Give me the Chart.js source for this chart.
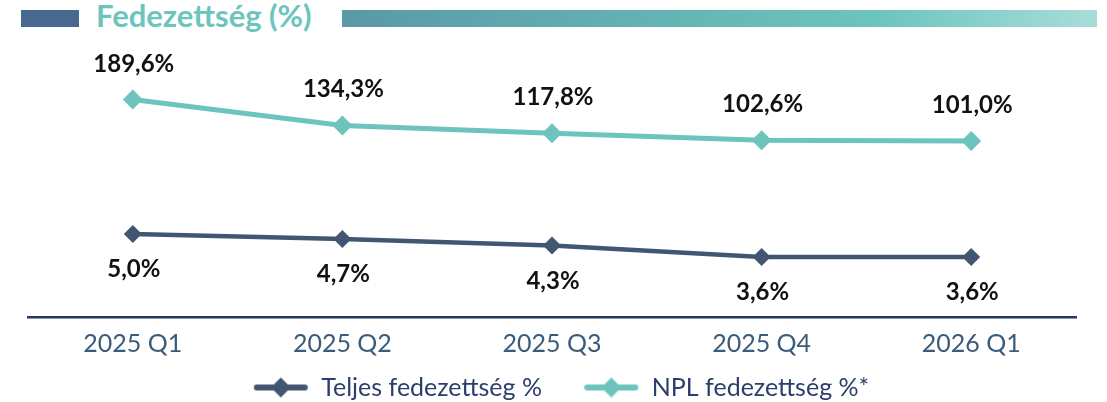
<!DOCTYPE html>
<html>
<head>
<meta charset="utf-8">
<script src="https://cdn.jsdelivr.net/npm/chart.js@4"></script>
<style>
  html, body { margin: 0; padding: 0; background: #fff; }
  #wrap { position: relative; width: 1107px; height: 402px; }
  #head-left { position: absolute; left: 21px; top: 10px; width: 58px; height: 17px; background: #48698f; }
  #head-title { position: absolute; left: 96px; top: -4px; font: bold 31px Lato, sans-serif; color: #6cc5bd; white-space: nowrap; }
  #head-right { position: absolute; left: 342px; top: 10px; width: 755px; height: 17px;
    background: linear-gradient(90deg, #5a99a7 0%, #6cc5bd 71%, #a9dcd9 100%); }
  canvas { position: absolute; left: 0; top: 0; }
</style>
</head>
<body>
<div id="wrap">
  <div id="head-left"></div>
  <div id="head-title">Fedezettség (%)</div>
  <div id="head-right"></div>
  <canvas id="chart" width="1107" height="402"></canvas>
</div>
<script>
const quarters = ['2025 Q1', '2025 Q2', '2025 Q3', '2025 Q4', '2026 Q1'];
const teljes = [5.0, 4.7, 4.3, 3.6, 3.6];
const npl = [189.6, 134.3, 117.8, 102.6, 101.0];

const DARK = '#405672';
const TEAL = '#6cc4bd';

// legend swatch: short thick line with a diamond in the middle
function legendIcon(color) {
    const c = document.createElement('canvas');
    c.width = 56;
    c.height = 22;
    const g = c.getContext('2d');
    g.strokeStyle = color;
    g.lineWidth = 6;
    g.lineCap = 'round';
    g.beginPath();
    g.moveTo(4, 11);
    g.lineTo(52, 11);
    g.stroke();
    g.fillStyle = color;
    g.beginPath();
    g.moveTo(28, 1);
    g.lineTo(38, 11);
    g.lineTo(28, 21);
    g.lineTo(18, 11);
    g.closePath();
    g.fill();
    return c;
}

// value labels: NPL above the points, Teljes below
const valueLabels = {
    id: 'valueLabels',
    afterDatasetsDraw(chart) {
        const ctx = chart.ctx;
        ctx.save();
        ctx.font = 'bold 24px Lato';
        ctx.fillStyle = '#111111';
        ctx.textAlign = 'center';
        ctx.textBaseline = 'alphabetic';
        chart.data.datasets.forEach((ds, i) => {
            const meta = chart.getDatasetMeta(i);
            meta.data.forEach((pt, j) => {
                const txt = ds.data[j].toFixed(1).replace('.', ',') + '%';
                const dy = ds.labelPos === 'above' ? -28 : 43;
                ctx.fillText(txt, pt.x + 1, pt.y + dy);
            });
        });
        ctx.restore();
    }
};

// nudge the legend box a little right and down
const legendNudge = {
    id: 'legendNudge',
    afterLayout(chart) {
        const lg = chart.legend;
        if (!lg) return;
        lg.left += 9;
        lg.right += 9;
        lg.top += 2;
        lg.bottom += 2;
    }
};

Chart.defaults.font.family = 'Lato';

const chart = new Chart(document.getElementById('chart').getContext('2d'), {
    type: 'line',
    data: {
        labels: quarters,
        datasets: [{
            label: 'Teljes fedezettség %',
            data: teljes,
            yAxisID: 'yT',
            borderColor: DARK,
            backgroundColor: DARK,
            borderWidth: 4.5,
            pointStyle: 'rectRot',
            pointRadius: 9,
            pointBorderWidth: 0,
            pointBackgroundColor: DARK,
            labelPos: 'below',
            tension: 0
        }, {
            label: 'NPL fedezettség %*',
            data: npl,
            yAxisID: 'yN',
            borderColor: TEAL,
            backgroundColor: TEAL,
            borderWidth: 5,
            pointStyle: 'rectRot',
            pointRadius: 10,
            pointBorderWidth: 0,
            pointBackgroundColor: TEAL,
            labelPos: 'above',
            tension: 0
        }]
    },
    options: {
        responsive: false,
        animation: false,
        layout: {
            padding: { left: 28, right: 31, top: 50, bottom: -6 }
        },
        scales: {
            x: {
                offset: true,
                grid: { display: false },
                border: { display: true, color: '#1f3864', width: 2.5 },
                ticks: { color: '#3a5c7a', font: { size: 25 }, padding: 4 }
            },
            yN: {
                display: false,
                min: -274.4,
                max: 295.2
            },
            yT: {
                display: false,
                min: -0.05,
                max: 16.2
            }
        },
        plugins: {
            title: { display: false },
            tooltip: { enabled: false },
            legend: {
                position: 'bottom',
                labels: {
                    color: '#2c3e6b',
                    font: { size: 25 },
                    usePointStyle: true,
                    pointStyleWidth: 56,
                    padding: 10,
                    generateLabels(chart) {
                        return Chart.defaults.plugins.legend.labels.generateLabels(chart).map((item, i) => {
                            item.pointStyle = legendIcon(chart.data.datasets[i].borderColor);
                            // extra gap after the first entry
                            if (i === 0) item.text += '\u2003\u2002';
                            return item;
                        });
                    }
                }
            }
        }
    },
    plugins: [valueLabels, legendNudge]
});
</script>
</body>
</html>
